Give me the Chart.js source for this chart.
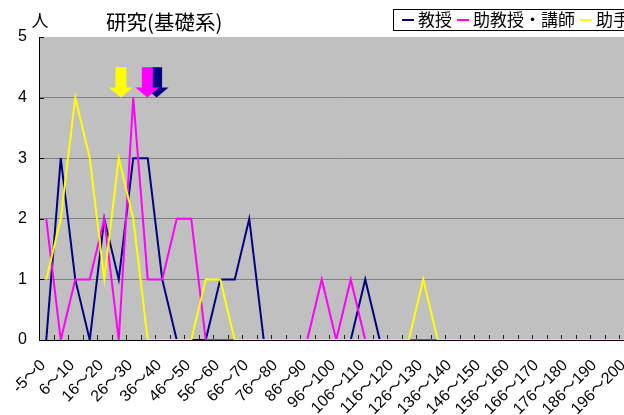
<!DOCTYPE html>
<html><head><meta charset="utf-8">
<script src="https://cdn.jsdelivr.net/npm/chart.js@4/dist/chart.umd.min.js"></script>
<style>
html,body{margin:0;padding:0;background:#fff;overflow:hidden;width:624px;height:415px;}
#wrap{width:624px;height:415px;overflow:hidden;position:relative;}
canvas{display:block;}
</style></head><body>
<div id="wrap"><canvas id="c" width="640" height="415"></canvas></div>
<script>
const categories = ["-5～0","1～5","6～10","11～15","16～20","21～25","26～30","31～35","36～40","41～45",
  "46～50","51～55","56～60","61～65","66～70","71～75","76～80","81～85","86～90","91～95",
  "96～100","101～105","106～110","111～115","116～120","121～125","126～130","131～135","136～140","141～145",
  "146～150","151～155","156～160","161～165","166～170","171～175","176～180","181～185","186～190","191～195",
  "196～200"];
const professor =     [0,3,1,0,2,1,3,3,1,0, 0,0,1,1,2,0,0,0,0,0, 0,0,1,0,0,0,0,0,0,0, 0,0,0,0,0,0,0,0,0,0, 0];
const assocLecturer = [2,0,1,1,2,0,4,1,1,2, 2,0,0,0,0,0,0,0,0,1, 0,1,0,0,0,0,0,0,0,0, 0,0,0,0,0,0,0,0,0,0, 0];
const assistant =     [1,2,4,3,1,3,2,0,0,0, 0,1,1,0,0,0,0,0,0,0, 0,0,0,0,0,0,1,0,0,0, 0,0,0,0,0,0,0,0,0,0, 0];
const seriesNames = ["教授","助教授・講師","助手"];
const seriesColors = ["#000080","#FF00FF","#FFFF00"];
const arrowPositions = [7.61, 6.97, 5.15];   // category-index positions of the arrow markers
const arrowTopValue = 4.5, arrowTipValue = 4.0;
const yTicks = [0,1,2,3,4,5];
const chartTitle = "研究(基礎系)";
const yUnit = "人";

const LATIN = '"Liberation Sans", Arial, "Noto Sans CJK JP", sans-serif';
const CJK = '"Noto Sans CJK JP", "Liberation Sans", sans-serif';

const decor = {
  id: 'decor',
  beforeDraw(chart) {
    const {ctx, chartArea: a} = chart;
    ctx.save();
    ctx.fillStyle = '#C0C0C0';
    ctx.fillRect(a.left, a.top, a.right - a.left, a.bottom - a.top);
    ctx.restore();
  },
  beforeDatasetsDraw(chart) {
    const {ctx, chartArea: a, scales: {x, y}} = chart;
    ctx.save();
    ctx.lineWidth = 1;
    ctx.strokeStyle = '#000';
    yTicks.forEach(v => {
      const py = Math.round(y.getPixelForValue(v)) + 0.5;
      ctx.beginPath(); ctx.moveTo(a.left, py); ctx.lineTo(a.left + 5, py); ctx.stroke();
    });
    ctx.strokeStyle = '#202020';
    for (let i = 1; i <= categories.length; i++) {
      const px = Math.round(x.getPixelForValue(i - 0.5)) + 0.5;
      ctx.beginPath(); ctx.moveTo(px, a.bottom); ctx.lineTo(px, a.bottom - 5); ctx.stroke();
    }
    ctx.restore();
  },
  afterDatasetsDraw(chart) {
    const {ctx, scales: {x, y}} = chart;
    ctx.save();
    [0, 1, 2].forEach(i => {
      const cx = x.getPixelForValue(arrowPositions[i]);
      const top = y.getPixelForValue(arrowTopValue);
      const tip = y.getPixelForValue(arrowTipValue);
      const sw = 5.5, hw = 12, hl = 10;
      ctx.fillStyle = seriesColors[i];
      ctx.beginPath();
      ctx.moveTo(cx - sw, top); ctx.lineTo(cx + sw, top); ctx.lineTo(cx + sw, tip - hl);
      ctx.lineTo(cx + hw, tip - hl); ctx.lineTo(cx, tip); ctx.lineTo(cx - hw, tip - hl);
      ctx.lineTo(cx - sw, tip - hl); ctx.closePath(); ctx.fill();
    });
    ctx.restore();
  },
  afterDraw(chart) {
    const {ctx} = chart;
    ctx.save();
    ctx.fillStyle = '#000';
    ctx.textBaseline = 'middle';
    ctx.font = '20.5px ' + CJK;
    ctx.textAlign = 'left';
    ctx.fillText(chartTitle, 106, 22);
    ctx.font = '17px ' + CJK;
    ctx.textAlign = 'center';
    ctx.fillText(yUnit, 40, 21);
    // legend
    ctx.fillStyle = '#fff';
    ctx.fillRect(393.5, 9.5, 300, 21);
    ctx.strokeStyle = '#000'; ctx.lineWidth = 1;
    ctx.strokeRect(393.5, 9.5, 300, 21);
    ctx.textAlign = 'left';
    let lx = 402;
    seriesNames.forEach((n, i) => {
      ctx.strokeStyle = seriesColors[i]; ctx.lineWidth = 2;
      ctx.beginPath(); ctx.moveTo(lx, 20); ctx.lineTo(lx + 12, 20); ctx.stroke();
      lx += 16;
      ctx.fillStyle = '#000';
      ctx.fillText(n, lx, 20);
      lx += ctx.measureText(n).width + 5;
    });
    ctx.restore();
  }
};

const datasetsData = [professor, assocLecturer, assistant];
new Chart(document.getElementById('c'), {
  type: 'line',
  data: {
    labels: categories,
    datasets: datasetsData.map((d, i) => ({
      label: seriesNames[i],
      data: d,
      borderColor: seriesColors[i],
      backgroundColor: seriesColors[i],
      borderWidth: 2,
      pointRadius: 0,
      tension: 0,
      order: 2 - i
    }))
  },
  options: {
    responsive: false,
    animation: false,
    devicePixelRatio: 1,
    layout: { padding: { top: 37, left: 0, right: 6.5, bottom: 0 } },
    plugins: { legend: { display: false }, title: { display: false }, tooltip: { enabled: false } },
    scales: {
      x: {
        offset: true,
        grid: { display: false, drawTicks: false },
        border: { display: true, color: '#000', width: 1 },
        ticks: {
          autoSkip: false, minRotation: 45, maxRotation: 45,
          padding: 16, labelOffset: -3,
          color: '#000',
          font: { family: LATIN, size: 16 },
          callback: (v, i) => (i % 2 === 0 ? categories[i] : '')
        },
        afterFit: s => { s.height = 75; s.paddingLeft = 0; s.paddingRight = 0; }
      },
      y: {
        min: 0, max: 5,
        grid: {
          color: c => (c.tick.value === 0 || c.tick.value === 5) ? 'rgba(0,0,0,0)' : '#808080',
          drawTicks: false, lineWidth: 1
        },
        border: { display: true, color: '#000', width: 1 },
        ticks: { stepSize: 1, padding: 12, color: '#000', font: { family: LATIN, size: 16 } },
        afterFit: s => { s.width = 39; }
      }
    }
  },
  plugins: [decor]
});
</script>
</body></html>
